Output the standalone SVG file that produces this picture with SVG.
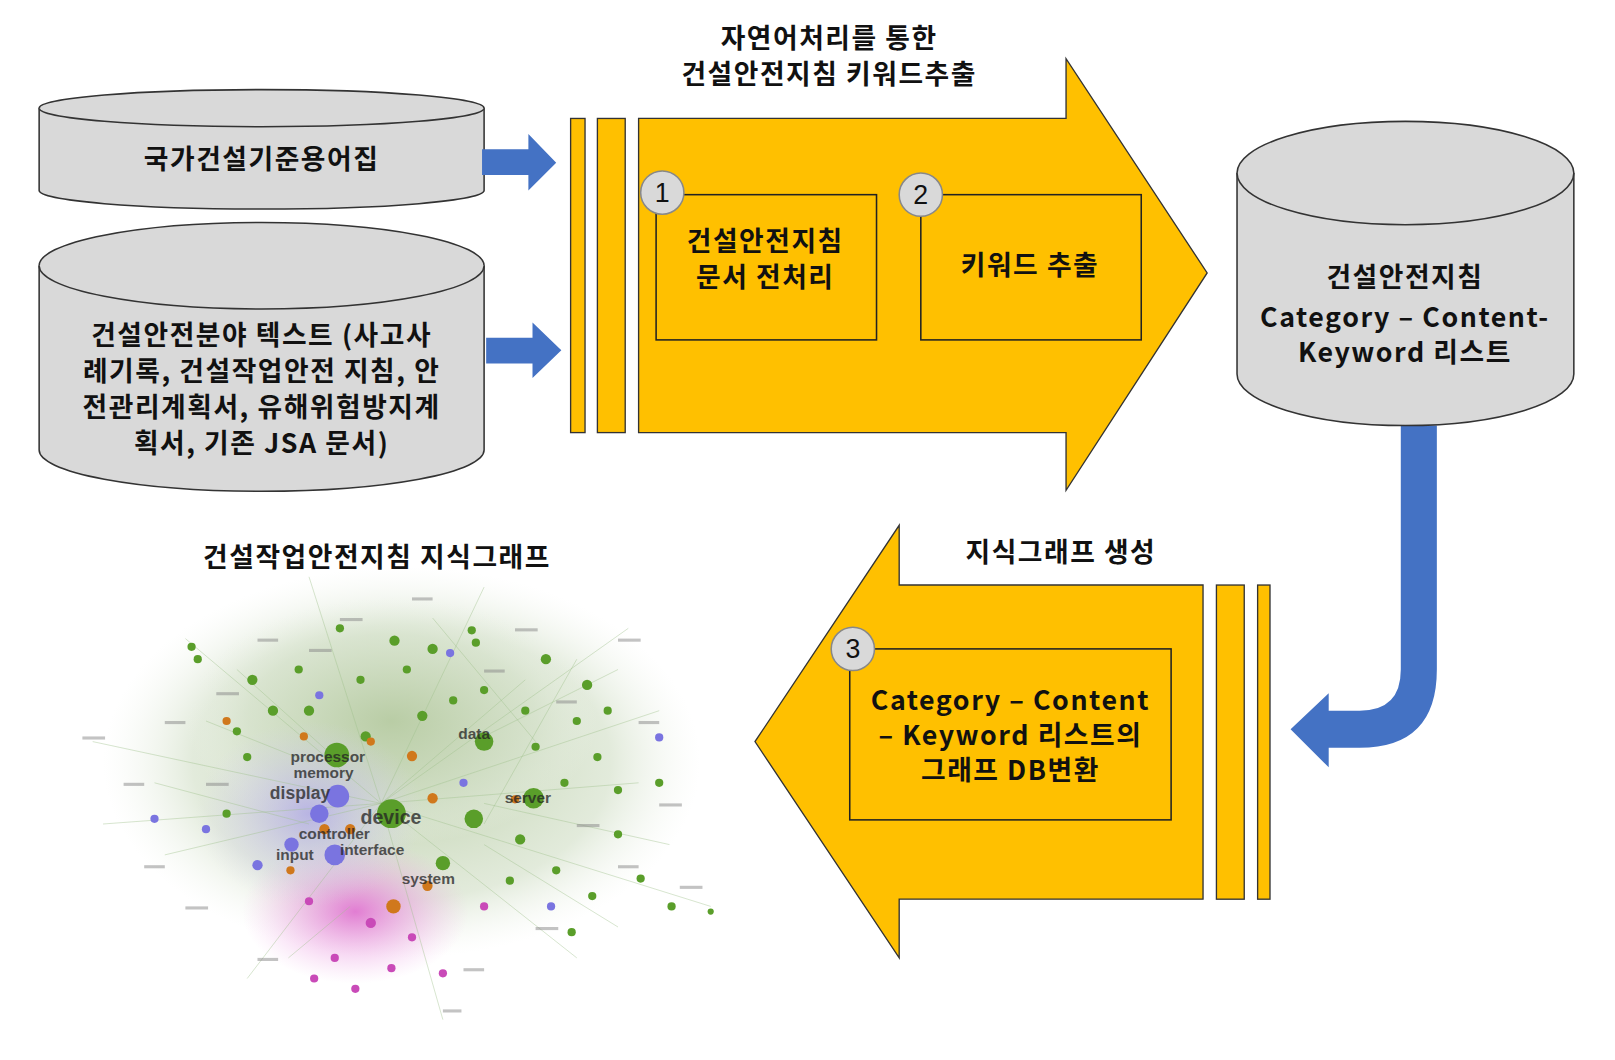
<svg xmlns="http://www.w3.org/2000/svg" width="1615" height="1060" viewBox="0 0 1615 1060">
<defs>
<style>
.k{font-family:"Noto Sans CJK KR","Noto Sans",sans-serif;font-weight:700;fill:#111;text-anchor:middle;letter-spacing:1.5px}
.cyl{fill:#d9d9d9;stroke:#333;stroke-width:1.5}
.y{fill:#ffc000;stroke:#333;stroke-width:1.3}
.bx{fill:none;stroke:#222;stroke-width:1.5}
.num{fill:#d9d9d9;stroke:#888;stroke-width:1.5}
.nt{font-family:"Liberation Sans",sans-serif;font-size:26px;fill:#111;text-anchor:middle}
.blue{fill:#4472c4}
.g{fill:#5a9e2a}.p{fill:#7a74e0}.o{fill:#d0781c}.m{fill:#c94ab8}
.w{font-family:"Liberation Sans",sans-serif;font-weight:700;fill:#222;opacity:.75}
.e{stroke:#9fbf8a;stroke-width:.8;opacity:.5;fill:none}
.s{fill:#888;opacity:.5}
</style>
<radialGradient id="hz" cx="50%" cy="50%" r="50%">
<stop offset="0" stop-color="#b8cca4" stop-opacity=".95"/><stop offset=".7" stop-color="#d6e2cc" stop-opacity=".7"/><stop offset="1" stop-color="#eef3ea" stop-opacity="0"/></radialGradient>
<radialGradient id="pk" cx="50%" cy="50%" r="50%">
<stop offset="0" stop-color="#e070d0" stop-opacity=".9"/><stop offset="1" stop-color="#f0b0e8" stop-opacity="0"/></radialGradient>
<radialGradient id="pu" cx="50%" cy="50%" r="50%">
<stop offset="0" stop-color="#b0a8e8" stop-opacity=".8"/><stop offset="1" stop-color="#d8d0f0" stop-opacity="0"/></radialGradient>
</defs>
<g transform="scale(1.03)">
<g id="src1">
<path class="cyl" d="M38,105 A216,18 0 0 1 470,105 V185 A216,18 0 0 1 38,185 Z"/>
<path class="cyl" d="M38,105 A216,18 0 0 0 470,105" fill="none"/>
<text class="k" x="254" y="164" font-size="26">국가건설기준용어집</text>
</g>
<g id="src2">
<path class="cyl" d="M38,258 A216,42 0 0 1 470,258 V437 A216,40 0 0 1 38,437 Z"/>
<path class="cyl" d="M38,258 A216,42 0 0 0 470,258" fill="none"/>
<text class="k" font-size="26"><tspan x="254" y="335">건설안전분야 텍스트 (사고사</tspan><tspan x="254" y="370">례기록, 건설작업안전 지침, 안</tspan><tspan x="254" y="405">전관리계획서, 유해위험방지계</tspan><tspan x="254" y="440">획서, 기존 JSA 문서)</tspan></text>
</g>
<g id="connectors">
<polygon class="blue" points="468,145 513,145 513,130 540,158 513,185 513,170 468,170"/>
<polygon class="blue" points="472,328 517,328 517,313 545,340 517,367 517,353 472,353"/>
<path class="blue" d="M1360,413 H1395 V650 Q1395,726 1320,726 H1290 V745 L1253,708 L1290,673 V690 H1320 Q1360,690 1360,650 Z"/>
<line x1="851" y1="260" x2="882" y2="260" stroke="#111" stroke-width="3"/>
<polygon points="880,253 894,260 880,267" fill="#111"/>
</g>
<g id="process1">
<rect class="y" x="554" y="115" width="14" height="305"/>
<rect class="y" x="580" y="115" width="27" height="305"/>
<polygon class="y" points="620,115 1035,115 1035,57 1172,265 1035,476 1035,420 620,420"/>
<text class="k" font-size="26" font-weight="500"><tspan x="805" y="47">자연어처리를 통한</tspan><tspan x="805" y="82">건설안전지침 키워드추출</tspan></text>
</g>
<g id="step1">
<rect class="bx" x="637" y="189" width="214" height="141"/>
<circle class="num" cx="643" cy="187" r="21"/>
<text class="nt" x="643" y="196">1</text>
<text class="k" font-size="26"><tspan x="743" y="244">건설안전지침</tspan><tspan x="743" y="279">문서 전처리</tspan></text>
</g>
<g id="step2">
<rect class="bx" x="894" y="189" width="214" height="141"/>
<circle class="num" cx="894" cy="189" r="21"/>
<text class="nt" x="894" y="198">2</text>
<text class="k" x="1000" y="267" font-size="26">키워드 추출</text>
</g>
<g id="list">
<path class="cyl" d="M1201,168 A163,50 0 0 1 1528,168 V363 A163,50 0 0 1 1201,363 Z"/>
<path class="cyl" d="M1201,168 A163,50 0 0 0 1528,168" fill="none"/>
<text class="k" font-size="26"><tspan x="1364" y="279">건설안전지침</tspan><tspan x="1364" y="317">Category – Content-</tspan><tspan x="1364" y="351">Keyword 리스트</tspan></text>
</g>
<g id="process2">
<rect class="y" x="1181" y="568" width="27" height="305"/>
<rect class="y" x="1221" y="568" width="12" height="305"/>
<polygon class="y" points="1168,568 873,568 873,510 733,720 873,930 873,873 1168,873"/>
<text class="k" x="1030" y="546" font-size="26" font-weight="500">지식그래프 생성</text>
</g>
<g id="step3">
<rect class="bx" x="825" y="630" width="312" height="166"/>
<circle class="num" cx="828" cy="630" r="21"/>
<text class="nt" x="828" y="639">3</text>
<text class="k" font-size="26"><tspan x="981" y="689">Category – Content</tspan><tspan x="981" y="723">– Keyword 리스트의</tspan><tspan x="981" y="757">그래프 DB변환</tspan></text>
</g>
<g id="graph">
<text class="k" x="366" y="550" font-size="26" font-weight="500">건설작업안전지침 지식그래프</text>
<ellipse cx="390" cy="740" rx="290" ry="190" fill="url(#hz)"/>
<ellipse cx="380" cy="700" rx="200" ry="120" fill="url(#hz)"/>
<ellipse cx="345" cy="885" rx="110" ry="70" fill="url(#pk)"/>
<ellipse cx="300" cy="790" rx="110" ry="90" fill="url(#pu)"/>
<g class="e">
<path d="M370,780 L180,620 M370,780 L470,570 M370,780 L610,610 M370,780 L690,880 M370,780 L90,720 M370,780 L240,950 M370,780 L430,990 M370,780 L620,760 M370,780 L160,830 M370,780 L560,930 M370,780 L300,560 M370,780 L510,660 M370,780 L640,690 M370,780 L100,800 M300,740 L200,700 M460,720 L600,650 M340,880 L280,930 M470,780 L650,820 M420,600 L520,720 M230,650 L330,740 M560,640 L470,800 M150,760 L300,800 M600,900 L470,820"/>
</g>
<g class="s">
<rect x="80" y="715" width="22" height="3"/><rect x="120" y="760" width="20" height="3"/><rect x="160" y="700" width="20" height="3"/><rect x="210" y="672" width="22" height="3"/>
<rect x="250" y="620" width="20" height="3"/><rect x="330" y="600" width="22" height="3"/><rect x="400" y="580" width="20" height="3"/><rect x="500" y="610" width="22" height="3"/>
<rect x="600" y="620" width="22" height="3"/><rect x="620" y="700" width="20" height="3"/><rect x="640" y="780" width="22" height="3"/><rect x="600" y="840" width="20" height="3"/>
<rect x="660" y="860" width="22" height="3"/><rect x="520" y="900" width="22" height="3"/><rect x="450" y="940" width="20" height="3"/><rect x="250" y="930" width="20" height="3"/>
<rect x="180" y="880" width="22" height="3"/><rect x="140" y="840" width="20" height="3"/><rect x="200" y="760" width="22" height="3"/><rect x="540" y="680" width="20" height="3"/>
<rect x="560" y="800" width="22" height="3"/><rect x="470" y="650" width="20" height="3"/><rect x="300" y="630" width="22" height="3"/><rect x="430" y="980" width="18" height="3"/>
</g>
<g>
<circle class="g" cx="380" cy="790" r="14"/><circle class="g" cx="327" cy="733" r="12"/><circle class="g" cx="470" cy="720" r="9"/>
<circle class="g" cx="518" cy="775" r="10"/><circle class="g" cx="430" cy="838" r="7"/><circle class="g" cx="460" cy="795" r="9"/>
<circle class="g" cx="186" cy="628" r="4"/><circle class="g" cx="192" cy="640" r="4"/><circle class="g" cx="458" cy="612" r="4"/>
<circle class="g" cx="462" cy="624" r="4"/><circle class="g" cx="383" cy="622" r="5"/><circle class="g" cx="420" cy="630" r="5"/>
<circle class="g" cx="530" cy="640" r="5"/><circle class="g" cx="570" cy="665" r="5"/><circle class="g" cx="590" cy="690" r="4"/>
<circle class="g" cx="245" cy="660" r="5"/><circle class="g" cx="265" cy="690" r="5"/><circle class="g" cx="300" cy="690" r="5"/>
<circle class="g" cx="355" cy="715" r="5"/><circle class="g" cx="410" cy="695" r="5"/><circle class="g" cx="505" cy="815" r="5"/>
<circle class="g" cx="540" cy="845" r="4"/><circle class="g" cx="555" cy="905" r="4"/><circle class="g" cx="575" cy="870" r="4"/>
<circle class="g" cx="622" cy="853" r="4"/><circle class="g" cx="652" cy="880" r="4"/><circle class="g" cx="690" cy="885" r="3"/>
<circle class="g" cx="600" cy="767" r="4"/><circle class="g" cx="640" cy="760" r="4"/><circle class="g" cx="220" cy="790" r="4"/>
<circle class="g" cx="240" cy="735" r="4"/><circle class="g" cx="350" cy="660" r="4"/><circle class="g" cx="470" cy="670" r="4"/>
<circle class="g" cx="520" cy="725" r="4"/><circle class="g" cx="548" cy="760" r="4"/><circle class="g" cx="495" cy="855" r="4"/>
<circle class="g" cx="600" cy="810" r="4"/><circle class="g" cx="560" cy="700" r="4"/><circle class="g" cx="290" cy="650" r="4"/>
<circle class="g" cx="395" cy="650" r="4"/><circle class="g" cx="440" cy="680" r="4"/><circle class="g" cx="510" cy="690" r="4"/>
<circle class="g" cx="580" cy="735" r="4"/><circle class="g" cx="230" cy="710" r="4"/><circle class="g" cx="330" cy="610" r="4"/>
<circle class="p" cx="328" cy="773" r="11"/><circle class="p" cx="310" cy="790" r="9"/><circle class="p" cx="283" cy="820" r="7"/>
<circle class="p" cx="325" cy="830" r="10"/><circle class="p" cx="250" cy="840" r="5"/><circle class="p" cx="200" cy="805" r="4"/>
<circle class="p" cx="150" cy="795" r="4"/><circle class="p" cx="437" cy="634" r="4"/><circle class="p" cx="310" cy="675" r="4"/>
<circle class="p" cx="450" cy="760" r="4"/><circle class="p" cx="535" cy="880" r="4"/><circle class="p" cx="640" cy="716" r="4"/>
<circle class="o" cx="295" cy="715" r="4"/><circle class="o" cx="400" cy="734" r="5"/><circle class="o" cx="420" cy="775" r="5"/>
<circle class="o" cx="315" cy="805" r="5"/><circle class="o" cx="282" cy="845" r="4"/><circle class="o" cx="382" cy="880" r="7"/>
<circle class="o" cx="415" cy="860" r="5"/><circle class="o" cx="500" cy="776" r="4"/><circle class="o" cx="340" cy="805" r="5"/>
<circle class="o" cx="360" cy="720" r="4"/><circle class="o" cx="220" cy="700" r="4"/>
<circle class="m" cx="360" cy="896" r="5"/><circle class="m" cx="325" cy="930" r="4"/><circle class="m" cx="300" cy="875" r="4"/>
<circle class="m" cx="400" cy="910" r="4"/><circle class="m" cx="345" cy="960" r="4"/><circle class="m" cx="430" cy="945" r="4"/>
<circle class="m" cx="305" cy="950" r="4"/><circle class="m" cx="470" cy="880" r="4"/><circle class="m" cx="380" cy="940" r="4"/>
</g>
<g font-size="15">
<text class="w" x="282" y="740">processor</text><text class="w" x="285" y="755">memory</text>
<text class="w" x="262" y="776" font-size="17">display</text><text class="w" x="350" y="800" font-size="19">device</text>
<text class="w" x="490" y="780">server</text><text class="w" x="445" y="717">data</text>
<text class="w" x="290" y="815">controller</text><text class="w" x="330" y="830">interface</text>
<text class="w" x="268" y="835">input</text><text class="w" x="390" y="858">system</text>
</g>
</g>
</g>
</svg>
